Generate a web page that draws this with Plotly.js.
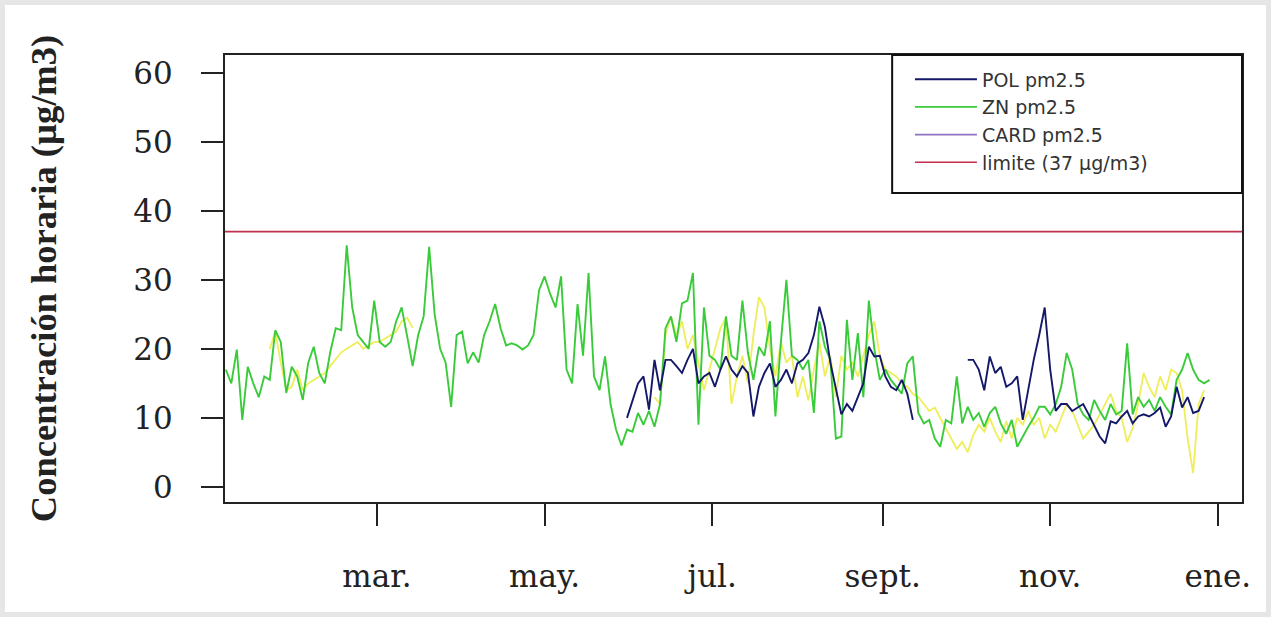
<!DOCTYPE html>
<html>
<head>
<meta charset="utf-8">
<script src="https://cdn.plot.ly/plotly-3.0.1.min.js"></script>
<style>
  html, body { margin: 0; padding: 0; background: #e6e6e6; width: 1271px; height: 617px; overflow: hidden; }
  #plot { position: absolute; left: 5px; top: 5px; width: 1261px; height: 607px; background: #fff; }
</style>
</head>
<body>
<div id="plot"></div>
<script>
// ---- DATA (daily samples every 2 days starting 2019-01-05) ----
const START_DATE = '2019-01-05';
const STEP_DAYS = 2;

const seriesNames = ['POL pm2.5', 'ZN pm2.5', 'CARD pm2.5', 'limite (37 µg/m3)'];
const LIMIT = 37;

const znValues = [
  17, 15, 19.9, 9.7, 17.4, 15, 13, 16, 15.5, 22.7,
  21, 13.6, 17.4, 16, 12.6, 18, 20.3, 16.5, 15, 19.5,
  23, 22.7, 35, 26, 22, 21, 20, 27, 21, 20.3,
  21, 24, 26, 21.8, 17.5, 22, 24.7, 34.8, 25, 20,
  18, 11.6, 22, 22.5, 17.9, 19.5, 18, 22, 24, 26.5,
  23, 20.5, 20.8, 20.5, 19.9, 20.5, 22, 28.5, 30.5, 28,
  26, 30.5, 17, 15, 26.5, 19, 31, 16, 14, 18.9,
  12, 8.3, 6, 8.3, 8, 10.7, 9, 11, 8.7, 12,
  23, 24.7, 21, 26.6, 27, 31, 9, 26, 19, 18.4,
  17, 24.7, 19, 18.4, 27, 19.4, 15.5, 20.3, 19, 24,
  10.2, 21, 30, 19, 18.4, 17, 18.4, 10.7, 24, 20.3,
  18.4, 7, 7.3, 24.2, 15.5, 22.3, 13, 27, 20, 15.5,
  17, 15.5, 14.5, 13.5, 17.9, 18.9, 10.7, 9.2, 9.7, 7,
  5.8, 9.7, 9.2, 16, 9.2, 11.6, 9.7, 10.7, 8.7, 10.7,
  11.6, 9.2, 7.7, 9.7, 5.8, 7.3, 8.7, 10, 11.6, 11.6,
  10.5, 12, 14.5, 19.4, 17, 12, 10.5, 9.7, 12.6, 11,
  9.7, 12, 10.5, 11, 20.8, 10.5, 13, 11.6, 12.6, 11,
  13, 11.6, 10.5, 15.5, 17, 19.4, 17, 15.5, 15, 15.5
];

const polLeadingGaps = 73; // no POL data before 2019-05-31
const polValues = [
  10, 12.6, 15, 16, 11.2, 18.4, 14, 18.4, 18.4, 17.5,
  16.5, 18.4, 20, 15, 16, 16.5, 14.5, 17, 18.9, 17,
  16, 17.5, 16.5, 10.2, 14.5, 16.5, 17.9, 14.5, 15.5, 17,
  15, 17.9, 18.4, 19.4, 22, 26.1, 23.2, 18, 14, 10.5,
  12, 11, 13, 15, 20.3, 18.9, 19, 16, 14.5, 14,
  15.5, 13.5, 9.7, null, null, null, null, null, null, null,
  null, null, 18.4, 18.4, 17, 14, 18.9, 16.5, 17.4, 14.5,
  15, 16, 9.7, 14, 18.4, 22, 26, 17, 11, 12,
  12, 11, 11.5, 12, 10.5, 9, 7.3, 6.3, 9.5, 9.2,
  10.2, 11, 9.2, 10.2, 10.5, 10.2, 10.7, 11.5, 8.7, 10.2,
  14.5, 11.5, 13, 10.7, 11, 13, null
];

const cardValues = [
  null, null, null, null, null, null, null, null,
  20, 22.5, 18, 14, 14.5, 17, 14, 15, 15.5, 16,
  16.5, 17.5, 18.5, 19.5, 20, 20.5, 21, 20, 20.5, 21,
  21, 21.5, 22, 22.5, 24, 24.5, 23,
  null, null, null, null, null, null, null, null, null, null,
  null, null, null, null, null, null, null, null, null, null,
  null, null, null, null, null, null, null, null, null, null,
  null, null, null, null, null, null, null, null, null, null,
  null, null, null,
  13, 12, 22, 24.7, 22, 24, 20, 22, 18, 14,
  17, 20, 23, 24.5, 12, 16, 19, 15, 22, 27.5,
  26, 20, 16, 21, 18, 19, 13, 16, 12.5, 17,
  21, 16, 19, 13, 19, 17, 18, 16, 19, 22,
  24, 19, 17, 16.5, 16, 15, 14.5, 13.5, 13, 12,
  11, 11.5, 10, 8.5, 7, 5.5, 6.5, 5, 7.5, 9,
  8, 10, 8, 6.5, 9.5, 7, 10, 9, 11, 9,
  10, 7, 9, 8, 10, 12, 11, 9, 7, 8,
  9, 10.5, 12, 13.5, 11, 10, 6.5, 8.5, 12, 16.5,
  14.5, 13, 16, 14, 17, 16.5, 14, 7, 2, 12,
  14, null
];

const tickDates = ['2019-03-01', '2019-05-01', '2019-07-01', '2019-09-01', '2019-11-01', '2020-01-01'];
const tickLabels = ['mar.', 'may.', 'jul.', 'sept.', 'nov.', 'ene.'];
const yTicks = [0, 10, 20, 30, 40, 50, 60];
const xRange = ['2019-01-04 17:00', '2020-01-09 19:00'];
const yRange = [-2.2, 62.6];

// ---- build ----
function makeDates(n) {
  const t0 = Date.parse(START_DATE + 'T00:00:00Z');
  const out = [];
  for (let i = 0; i < n; i++) {
    out.push(new Date(t0 + i * STEP_DAYS * 86400000).toISOString().slice(0, 10));
  }
  return out;
}
const polFull = new Array(polLeadingGaps).fill(null).concat(polValues);
const dates = makeDates(znValues.length);

const colors = {
  pol: '#141868',
  zn: '#3acb3a',
  card: '#eeee5a',
  cardLegend: '#8f73c4',
  lim: '#c0304c'
};

const traces = [
  { x: dates, y: cardValues, type: 'scatter', mode: 'lines', name: seriesNames[2],
    line: { color: colors.card, width: 1.8 }, showlegend: false, connectgaps: false },
  { x: dates, y: znValues, type: 'scatter', mode: 'lines', name: seriesNames[1],
    line: { color: colors.zn, width: 1.9 }, legendrank: 2, connectgaps: false },
  { x: dates, y: polFull, type: 'scatter', mode: 'lines', name: seriesNames[0],
    line: { color: colors.pol, width: 1.9 }, legendrank: 1, connectgaps: false },
  { x: [null], y: [null], type: 'scatter', mode: 'lines', name: seriesNames[2],
    line: { color: colors.cardLegend, width: 1.8 }, legendrank: 3 },
  { x: xRange, y: [LIMIT, LIMIT], type: 'scatter', mode: 'lines', name: seriesNames[3],
    line: { color: colors.lim, width: 1.6 }, legendrank: 4 }
];

const tickFont = { family: 'DejaVu Serif, serif', size: 31, color: '#222' };

const layout = {
  width: 1261, height: 607,
  margin: { l: 220, r: 24, t: 50, b: 110 },
  paper_bgcolor: '#ffffff',
  plot_bgcolor: '#ffffff',
  showlegend: true,
  legend: {
    x: 0.6735, y: 0.988, xanchor: 'left', yanchor: 'top',
    bgcolor: 'rgba(0,0,0,0)', borderwidth: 0,
    font: { family: 'DejaVu Sans, sans-serif', size: 19, color: '#333' },
    tracegroupgap: 0, itemwidth: 62
  },
  shapes: [
    { type: 'rect', xref: 'paper', yref: 'paper', x0: 0.656, x1: 1, y0: 0.691, y1: 1,
      line: { color: '#111', width: 2 }, fillcolor: 'rgba(0,0,0,0)', layer: 'above' }
  ],
  xaxis: {
    type: 'date', range: xRange,
    tickmode: 'array', tickvals: tickDates, ticktext: tickLabels,
    ticks: 'outside', ticklen: 22, tickwidth: 2, tickcolor: '#222',
    showline: true, mirror: true, linecolor: '#222', linewidth: 2,
    showgrid: false, zeroline: false,
    ticklabelstandoff: 24,
    tickfont: tickFont
  },
  yaxis: {
    range: yRange, tickmode: 'array', tickvals: yTicks,
    ticks: 'outside', ticklen: 22, tickwidth: 2, tickcolor: '#222',
    showline: true, mirror: true, linecolor: '#222', linewidth: 2,
    showgrid: false, zeroline: false,
    ticklabelstandoff: 22,
    tickfont: tickFont,
    title: { text: 'Concentración horaria (µg/m3)', standoff: 66,
      font: { family: 'Liberation Serif, Times New Roman, serif', size: 36.5, color: '#222', weight: 'bold' } },
    automargin: false
  }
};

Plotly.newPlot('plot', traces, layout, { displayModeBar: false, staticPlot: true });
</script>
</body>
</html>
